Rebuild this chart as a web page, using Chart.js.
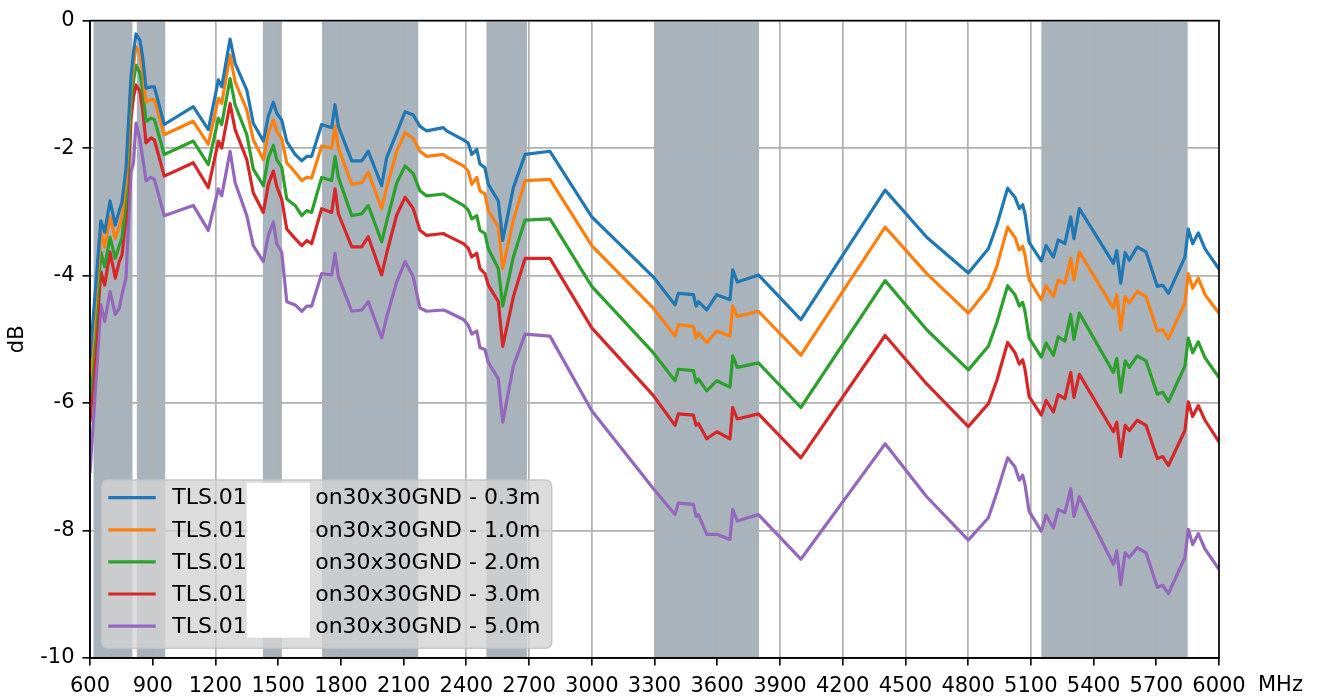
<!DOCTYPE html>
<html><head><meta charset="utf-8">
<script src="https://cdn.jsdelivr.net/npm/chart.js@4.4.0/dist/chart.umd.min.js"></script>
<style>html,body{margin:0;padding:0;background:#fff;}#wrap{width:1320px;height:699px;position:relative;}</style>
</head><body><div id="wrap"><canvas id="c"></canvas></div>
<script>
const freqMHz = [
 600,652,670,696,721,740,753,772,796,808,
 820,839,852,868,892,908,955,1094,1166,1214,
 1230,1270,1294,1350,1381,1429,1453,1477,1493,1517,
 1541,1581,1613,1637,1660,1708,1756,1772,1788,1852,
 1900,1931,1995,2019,2067,2107,2146,2178,2210,2290,
 2306,2386,2409,2426,2450,2465,2489,2505,2553,2574,
 2625,2681,2800,3000,3294,3398,3414,3486,3499,3510,
 3550,3598,3661,3674,3696,3797,4000,4403,4602,4801,
 4897,4937,4989,5024,5045,5061,5072,5092,5150,5173,
 5208,5231,5263,5291,5306,5332,5495,5511,5530,5551,
 5571,5609,5651,5705,5731,5758,5837,5853,5874,5901,
 5933,6000];
const loss03m = [
 -5.3,-3.14,-3.32,-2.83,-3.21,-2.98,-2.85,-2.33,-0.88,-0.50,
 -0.21,-0.31,-0.57,-1.06,-1.04,-1.04,-1.63,-1.35,-1.71,-0.93,
 -1.04,-0.29,-0.67,-1.09,-1.61,-1.89,-1.50,-1.28,-1.45,-1.56,
 -1.90,-2.10,-2.20,-2.13,-2.13,-1.63,-1.68,-1.32,-1.66,-2.20,
 -2.20,-2.05,-2.59,-2.15,-1.76,-1.43,-1.48,-1.66,-1.73,-1.68,
 -1.73,-1.87,-1.92,-2.10,-2.02,-2.25,-2.31,-2.57,-2.83,-3.45,
 -2.62,-2.10,-2.05,-3.08,-4.02,-4.46,-4.28,-4.30,-4.48,-4.41,
 -4.54,-4.30,-4.38,-3.91,-4.10,-3.99,-4.69,-2.66,-3.40,-3.96,
 -3.58,-3.21,-2.63,-2.77,-2.95,-2.89,-3.03,-3.48,-3.77,-3.53,
 -3.71,-3.44,-3.50,-3.08,-3.42,-2.95,-3.81,-3.61,-4.12,-3.64,
 -3.76,-3.55,-3.63,-4.17,-4.15,-4.28,-3.71,-3.27,-3.50,-3.33,
 -3.58,-3.90];
const loss10m = [
 -5.6,-3.32,-3.55,-3.08,-3.42,-3.24,-3.08,-2.55,-1.05,-0.70,
 -0.41,-0.52,-0.80,-1.27,-1.24,-1.24,-1.79,-1.58,-1.94,-1.22,
 -1.30,-0.54,-0.96,-1.40,-1.87,-2.18,-1.76,-1.56,-1.74,-1.85,
 -2.23,-2.38,-2.51,-2.46,-2.47,-1.97,-2.00,-1.66,-2.00,-2.57,
 -2.54,-2.38,-2.95,-2.62,-2.05,-1.76,-1.85,-2.05,-2.13,-2.10,
 -2.14,-2.28,-2.36,-2.57,-2.46,-2.67,-2.72,-2.98,-3.24,-3.89,
 -3.13,-2.51,-2.49,-3.53,-4.51,-4.95,-4.77,-4.80,-4.98,-4.90,
 -5.05,-4.87,-4.95,-4.48,-4.64,-4.56,-5.25,-3.24,-3.97,-4.59,
 -4.20,-3.86,-3.24,-3.40,-3.60,-3.54,-3.68,-4.07,-4.38,-4.16,
 -4.33,-4.07,-4.12,-3.73,-4.07,-3.63,-4.51,-4.30,-4.85,-4.33,
 -4.43,-4.25,-4.33,-4.87,-4.85,-4.99,-4.43,-3.97,-4.20,-4.04,
 -4.30,-4.59];
const loss20m = [
 -5.9,-3.63,-3.86,-3.40,-3.73,-3.53,-3.40,-2.85,-1.30,-0.95,
 -0.70,-0.82,-1.10,-1.58,-1.53,-1.55,-2.10,-1.89,-2.26,-1.53,
 -1.63,-0.91,-1.32,-1.79,-2.33,-2.59,-2.15,-1.96,-2.18,-2.30,
 -2.80,-2.90,-3.06,-2.98,-3.01,-2.46,-2.51,-2.13,-2.46,-3.06,
 -3.03,-2.90,-3.47,-3.15,-2.55,-2.28,-2.40,-2.67,-2.75,-2.72,
 -2.75,-2.90,-2.97,-3.11,-3.06,-3.29,-3.34,-3.58,-3.89,-4.48,
 -3.71,-3.13,-3.11,-4.17,-5.21,-5.65,-5.47,-5.49,-5.68,-5.62,
 -5.81,-5.65,-5.75,-5.26,-5.44,-5.37,-6.07,-4.08,-4.85,-5.48,
 -5.11,-4.74,-4.16,-4.30,-4.48,-4.42,-4.56,-4.98,-5.28,-5.06,
 -5.25,-4.96,-5.03,-4.61,-5.00,-4.59,-5.52,-5.30,-5.83,-5.34,
 -5.44,-5.26,-5.34,-5.86,-5.83,-5.98,-5.42,-4.98,-5.21,-5.04,
 -5.29,-5.60];
const loss30m = [
 -6.3,-3.94,-4.15,-3.63,-4.04,-3.78,-3.68,-3.11,-1.55,-1.20,
 -1.01,-1.11,-1.40,-1.92,-1.84,-1.87,-2.44,-2.23,-2.62,-1.89,
 -2.00,-1.30,-1.71,-2.18,-2.70,-3.01,-2.57,-2.36,-2.60,-2.80,
 -3.27,-3.42,-3.53,-3.45,-3.50,-2.95,-3.01,-2.64,-3.03,-3.55,
 -3.55,-3.39,-3.99,-3.65,-3.05,-2.77,-2.95,-3.29,-3.37,-3.34,
 -3.37,-3.50,-3.57,-3.71,-3.65,-3.89,-3.97,-4.15,-4.41,-5.11,
 -4.33,-3.73,-3.73,-4.82,-5.88,-6.35,-6.17,-6.19,-6.35,-6.32,
 -6.56,-6.45,-6.56,-6.07,-6.25,-6.17,-6.86,-4.94,-5.70,-6.37,
 -6.01,-5.65,-5.05,-5.21,-5.39,-5.32,-5.47,-5.90,-6.19,-5.96,
 -6.14,-5.87,-5.93,-5.52,-5.91,-5.55,-6.45,-6.30,-6.84,-6.35,
 -6.43,-6.27,-6.35,-6.87,-6.84,-6.98,-6.43,-5.98,-6.21,-6.04,
 -6.27,-6.61];
const loss50m = [
 -7.1,-4.46,-4.72,-4.25,-4.61,-4.51,-4.30,-4.04,-2.38,-2.23,
 -1.61,-1.87,-2.15,-2.51,-2.46,-2.49,-3.06,-2.90,-3.29,-2.64,
 -2.75,-2.05,-2.54,-3.06,-3.53,-3.78,-3.37,-3.16,-3.50,-3.63,
 -4.41,-4.46,-4.56,-4.48,-4.48,-3.97,-3.99,-3.65,-4.02,-4.56,
 -4.54,-4.41,-4.98,-4.65,-4.10,-3.78,-4.02,-4.51,-4.56,-4.54,
 -4.56,-4.69,-4.78,-4.92,-4.87,-5.13,-5.16,-5.36,-5.62,-6.30,
 -5.42,-4.92,-4.95,-6.12,-7.34,-7.75,-7.57,-7.59,-7.78,-7.75,
 -8.06,-8.06,-8.14,-7.67,-7.85,-7.75,-8.45,-6.64,-7.47,-8.15,
 -7.80,-7.41,-6.86,-7.00,-7.21,-7.13,-7.28,-7.70,-8.01,-7.76,
 -7.96,-7.67,-7.72,-7.34,-7.78,-7.47,-8.53,-8.32,-8.85,-8.35,
 -8.42,-8.27,-8.35,-8.89,-8.86,-8.99,-8.42,-7.98,-8.22,-8.05,
 -8.29,-8.61];
const seriesValues = [loss03m, loss10m, loss20m, loss30m, loss50m];
const labelPrefix = 'TLS.01';
const labelSuffixes = ['on30x30GND - 0.3m','on30x30GND - 1.0m','on30x30GND - 2.0m','on30x30GND - 3.0m','on30x30GND - 5.0m'];
const seriesColors = ['#1f77b4','#ff7f0e','#2ca02c','#d62728','#9467bd'];
const bandsMHz = [[617,803],[824,960],[1427,1518],[1710,2170],[2496,2690],[3300,3800],[5150,5850]];
const xTicks = [600,900,1200,1500,1800,2100,2400,2700,3000,3300,3600,3900,4200,4500,4800,5100,5400,5700,6000];
const yTicks = [0,-2,-4,-6,-8,-10];
const xUnit = 'MHz';
const yTitle = 'dB';

const FONT = '"DejaVu Sans", sans-serif';

const bandPlugin = {
  id: 'bands',
  beforeDraw(chart) {
    const {ctx, chartArea: a, scales: {x}} = chart;
    ctx.save();
    ctx.fillStyle = 'rgba(112,128,144,0.6)';
    bandsMHz.forEach(([s, e]) => {
      const x0 = x.getPixelForValue(s), x1 = x.getPixelForValue(e);
      ctx.fillRect(x0, a.top, x1 - x0, a.bottom - a.top);
    });
    ctx.restore();
  }
};

const overlayPlugin = {
  id: 'overlay',
  afterDatasetsDraw(chart) {
    const {ctx, chartArea: a} = chart;
    ctx.save();
    ctx.strokeStyle = '#000';
    ctx.lineWidth = 1.6;
    ctx.strokeRect(a.left, a.top, a.right - a.left, a.bottom - a.top);
    ctx.restore();
  },
  afterDraw(chart) {
    const {ctx, chartArea: a, scales: {x}} = chart;
    ctx.save();
    // unit label
    ctx.fillStyle = '#000';
    ctx.font = '21px ' + FONT;
    ctx.textAlign = 'left';
    ctx.textBaseline = 'middle';
    ctx.fillText(xUnit, x.getPixelForValue(6000) + 39, a.bottom + 28);
    // legend
    const lx = a.left + 11.7, ly = a.bottom - 178, lw = 450, lh = 168.3;
    ctx.beginPath();
    ctx.roundRect(lx, ly, lw, lh, 6);
    ctx.fillStyle = 'rgba(211,211,211,0.8)';
    ctx.fill();
    ctx.strokeStyle = 'rgba(195,195,195,0.9)';
    ctx.lineWidth = 1.5;
    ctx.stroke();
    ctx.font = '22px ' + FONT;
    chart.data.datasets.forEach((ds, i) => {
      const ry = ly + 17.7 + i * 32.1;
      ctx.beginPath();
      ctx.moveTo(lx + 6.6, ry);
      ctx.lineTo(lx + 54, ry);
      ctx.strokeStyle = ds.borderColor;
      ctx.lineWidth = 3.2;
      ctx.stroke();
      ctx.fillStyle = '#000';
      ctx.fillText(labelPrefix, lx + 70.5, ry + 1);
      ctx.fillText(labelSuffixes[i], lx + 213.5, ry + 1);
    });
    ctx.fillStyle = '#fff';
    ctx.fillRect(lx + 145, ly + 2.7, 63.3, 155);
    ctx.restore();
  }
};

const datasets = seriesValues.map((vals, i) => ({
  label: labelPrefix + ' ' + labelSuffixes[i],
  data: freqMHz.map((f, j) => ({x: f, y: vals[j]})),
  borderColor: seriesColors[i],
  backgroundColor: seriesColors[i],
  borderWidth: 3.2,
  pointRadius: 0,
  tension: 0,
  fill: false,
  borderJoinStyle: 'round',
  borderCapStyle: 'butt'
}));

new Chart(document.getElementById('c'), {
  type: 'line',
  data: {datasets},
  plugins: [bandPlugin, overlayPlugin],
  options: {
    responsive: true,
    maintainAspectRatio: false,
    animation: false,
    layout: {padding: {top: 15, right: 101, left: 0, bottom: 0}},
    plugins: {legend: {display: false}, tooltip: {enabled: false}},
    scales: {
      x: {
        type: 'linear', min: 600, max: 6000,
        afterBuildTicks: s => { s.ticks = xTicks.map(v => ({value: v})); },
        afterFit: s => { s.height = 41; },
        ticks: {callback: v => String(v), font: {family: FONT, size: 21}, color: '#000', maxRotation: 0, autoSkip: false, padding: 8},
        grid: {color: '#b0b0b0', lineWidth: 1.7, tickColor: '#000', tickLength: 7.5, tickWidth: 1.6},
        border: {display: true, color: '#000', width: 1.6}
      },
      y: {
        type: 'linear', min: -10, max: 0,
        afterBuildTicks: s => { s.ticks = yTicks.map(v => ({value: v})); },
        afterFit: s => { s.width = 90; },
        ticks: {callback: v => String(v), font: {family: FONT, size: 21}, color: '#000', padding: 8},
        grid: {color: '#b0b0b0', lineWidth: 1.7, tickColor: '#000', tickLength: 7.5, tickWidth: 1.6},
        border: {display: true, color: '#000', width: 1.6},
        title: {display: true, text: yTitle, font: {family: FONT, size: 21}, color: '#000', padding: {top: 5, bottom: 4}}
      }
    }
  }
});
</script>
</body></html>
